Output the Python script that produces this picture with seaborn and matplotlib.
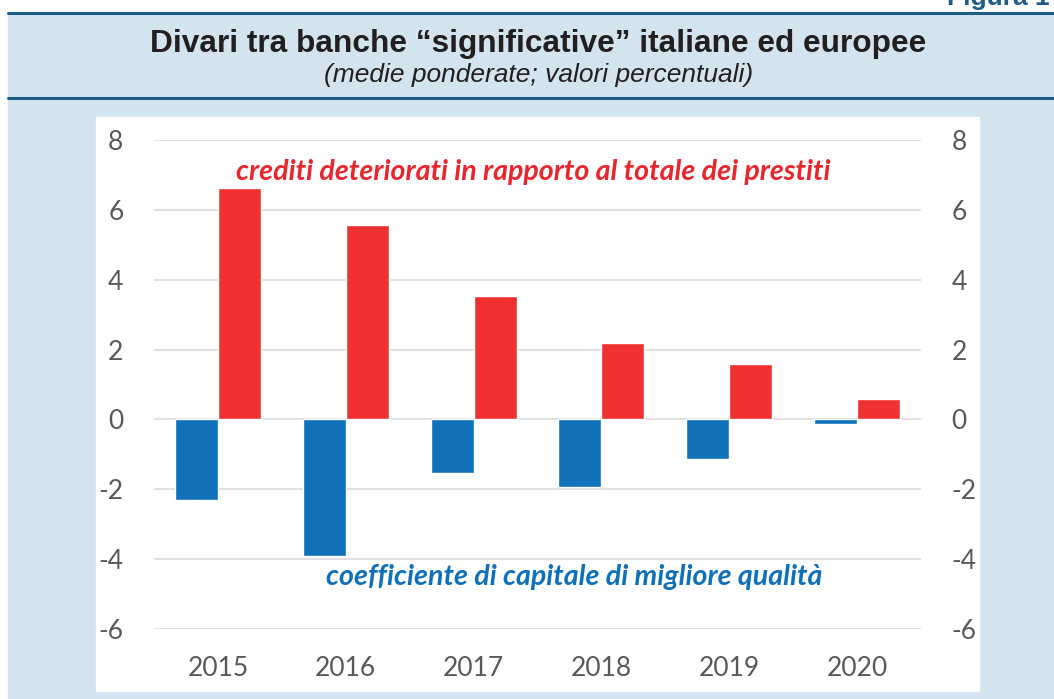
import numpy as np
import matplotlib.pyplot as plt
import pandas as pd
import seaborn as sns
from matplotlib.patches import Rectangle
from matplotlib.lines import Line2D

# dati
anni = ['2015', '2016', '2017', '2018', '2019', '2020']
capitale = [-2.3, -3.9, -1.52, -1.94, -1.14, -0.14]
crediti = [6.63, 5.56, 3.52, 2.2, 1.6, 0.58]
serie = ['capitale', 'crediti']
colori = ['#1172b9', '#ef3131']

df = pd.DataFrame({
    'anno': anni * 2,
    'valore': capitale + crediti,
    'serie': [serie[0]] * len(anni) + [serie[1]] * len(anni),
})

sns.set_style('white')
plt.rcParams['font.family'] = ['Lato', 'DejaVu Sans']
plt.rcParams['axes.unicode_minus'] = False

W, H = 1054, 699
fig = plt.figure(figsize=(W / 100, H / 100), dpi=100)
fig.patch.set_facecolor('white')

# sfondo azzurro e riquadro bianco
def px(x0, y0, x1, y1):
    return (x0 / W, 1 - y1 / H), (x1 - x0) / W, (y1 - y0) / H

xy, w, h = px(8, 13, W, H)
fig.add_artist(Rectangle(xy, w, h, transform=fig.transFigure, color='#d3e4ee', zorder=0))
xy, w, h = px(96, 117, 979, 691)
fig.add_artist(Rectangle(xy, w, h, transform=fig.transFigure, color='white', zorder=0))
for yy in [13, 98]:
    fig.add_artist(Line2D([8 / W, 1], [1 - yy / H] * 2, transform=fig.transFigure,
                          color='#1d5d85', lw=2.2))

# "Figura 1" tagliato in alto come nell'originale
fig.text(1050 / W, 1 - 5 / H, 'Figura 1', ha='right', va='baseline', fontsize=19,
         fontweight='bold', color='#1d5d85', family='Liberation Sans')
fig.text(538 / W, 1 - 44 / H, 'Divari tra banche \u201csignificative\u201d italiane ed europee',
         ha='center', va='center', fontsize=22.8, fontweight='bold', color='#231f20',
         family='Liberation Sans')
fig.text(539 / W, 1 - 75 / H, '(medie ponderate; valori percentuali)',
         ha='center', va='center', fontsize=19, style='italic', color='#231f20',
         family='Liberation Sans')

ax = fig.add_axes([154 / W, 1 - 629 / H, 767 / W, 489 / H])
ax.set_facecolor('none')
sns.barplot(data=df, x='anno', y='valore', hue='serie', hue_order=serie,
            palette=colori, width=0.672, saturation=1, ax=ax, legend=False, zorder=3)

ax.set_ylim(-6, 8)
ax.set_xlim(-0.5, 5.5)
ax.set_yticks(np.arange(-6, 9, 2))
ax.yaxis.grid(True, color='#d9d9d9', lw=1.1)
ax.set_axisbelow(True)
for s in ax.spines.values():
    s.set_visible(False)
ax.set_xlabel('')
ax.set_ylabel('')
ax.tick_params(axis='y', left=False, right=False, labelleft=True, labelright=True,
               pad=18.5, labelsize=19, labelcolor='#595959')
ax.tick_params(axis='x', bottom=False, pad=16, labelsize=19, labelcolor='#595959')

ax.text(2.465, 7.08, 'crediti deteriorati in rapporto al totale dei prestiti',
        ha='center', va='center', fontsize=20.6, fontweight='bold', style='italic',
        color='#e8262e')
ax.text(2.79, -4.5, 'coefficiente di capitale di migliore qualità',
        ha='center', va='center', fontsize=20.6, fontweight='bold', style='italic',
        color='#1070b8')

fig.savefig('out.png', dpi=100, facecolor=fig.get_facecolor())
